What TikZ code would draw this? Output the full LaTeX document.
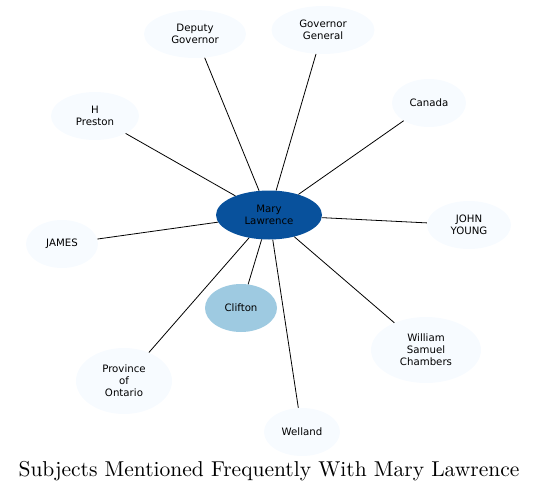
\documentclass[tikz,border=0pt]{standalone}
\usepackage{fontspec}
\usetikzlibrary{shapes.geometric}
\newfontfamily\dejavu{DejaVu Sans}
\newfontfamily\titlefont{lmroman10-regular}[Extension=.otf]
\definecolor{hub}{HTML}{08519C}
\definecolor{near}{HTML}{9ECAE1}
\definecolor{far}{HTML}{F7FBFF}
\definecolor{ink}{HTML}{000000}

\begin{document}
\begin{tikzpicture}[x=1pt, y=-1pt,
  subj/.style={ellipse, fill=far, draw=none, inner sep=0pt, align=center,
    font=\dejavu\fontsize{10.2}{12}\selectfont, text=ink},
  link/.style={draw=ink, line width=0.8pt}
]
\useasboundingbox (0,0) rectangle (539,493);
% ---------------- subjects
\node[subj, fill=hub, minimum width=106pt, minimum height=49pt] (mary) at (269,215) {Mary\\Lawrence};
\node[subj, fill=near, minimum width=72pt, minimum height=48pt] (clifton) at (241,308) {Clifton};
\node[subj, minimum width=102pt, minimum height=48pt] (deputy) at (195,34) {Deputy\\Governor};
\node[subj, minimum width=103pt, minimum height=48pt] (govgen) at (323,30) {Governor\\General};
\node[subj, minimum width=74pt, minimum height=48pt] (canada) at (429,103) {Canada};
\node[subj, minimum width=88pt, minimum height=48pt] (preston) at (95,116) {H\\Preston};
\node[subj, minimum width=72pt, minimum height=48pt] (james) at (62,244) {JAMES};
\node[subj, minimum width=84pt, minimum height=48pt] (young) at (469,225) {JOHN\\YOUNG};
\node[subj, minimum width=110pt, minimum height=66pt] (chambers) at (426,350) {William\\Samuel\\Chambers};
\node[subj, minimum width=96pt, minimum height=66pt] (ontario) at (124,381) {Province\\of\\Ontario};
\node[subj, minimum width=76pt, minimum height=48pt] (welland) at (302,432) {Welland};
% ---------------- links
\foreach \s in {clifton,deputy,govgen,canada,preston,james,young,chambers,ontario,welland}
  \draw[link] (mary) -- (\s);
% ---------------- title
\node[font=\titlefont\fontsize{21.5}{24}\selectfont, text=ink] (title) at (269,471) {Subjects Mentioned Frequently With Mary Lawrence};
\end{tikzpicture}
\end{document}
